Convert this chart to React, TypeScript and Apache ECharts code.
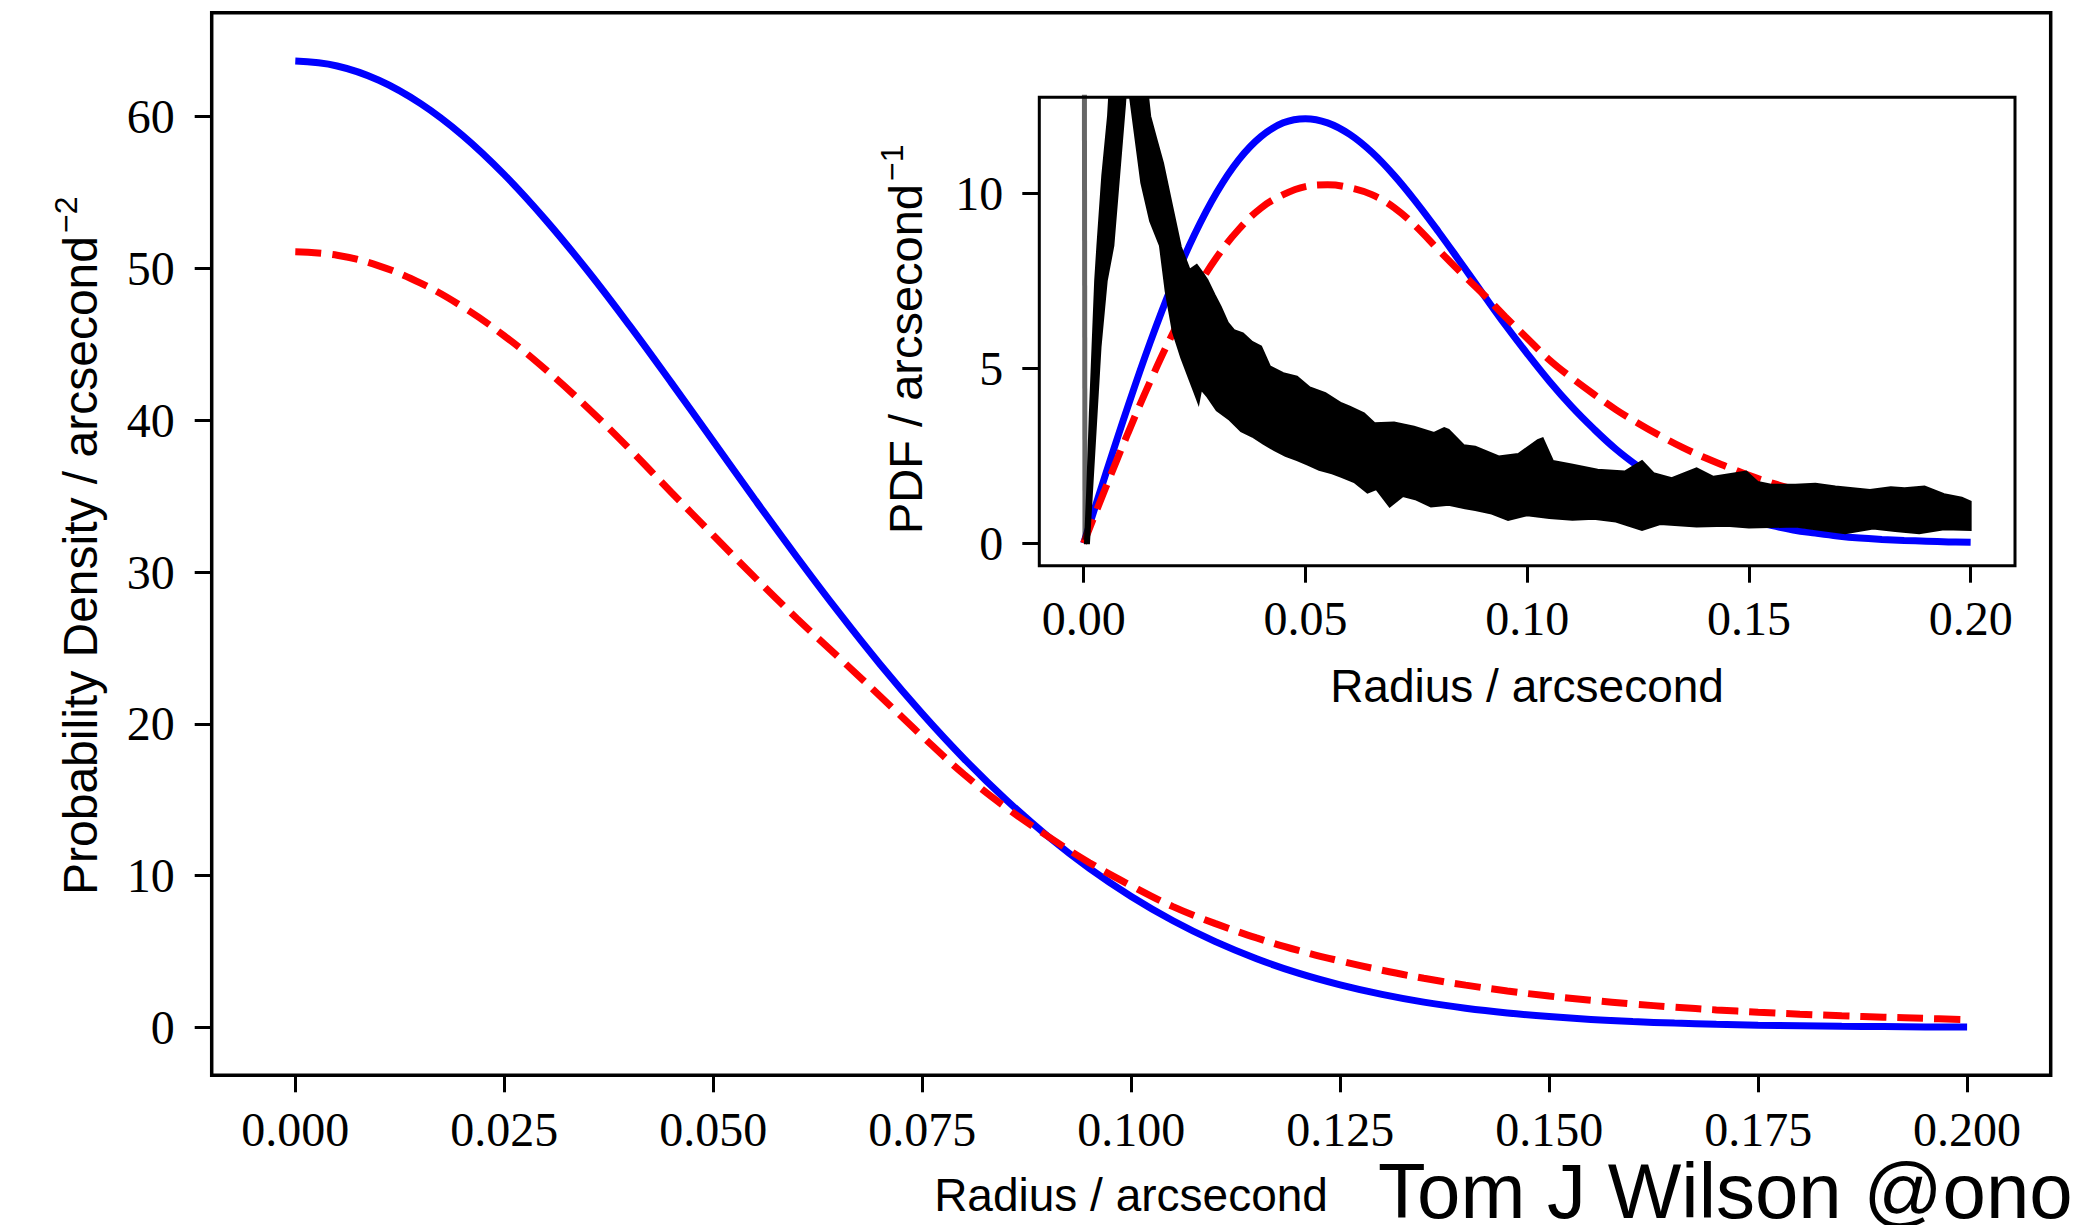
import React, { useEffect, useRef } from "react";
import * as echarts from "echarts";

// Radius grid (arcsecond)
const radius = [
  0, 0.005, 0.01, 0.015, 0.02, 0.025, 0.03, 0.035, 0.04, 0.045, 0.05, 0.055, 0.06, 0.065, 0.07,
  0.075, 0.08, 0.085, 0.09, 0.095, 0.1, 0.105, 0.11, 0.115, 0.12, 0.125, 0.13, 0.135, 0.14, 0.145,
  0.15, 0.155, 0.16, 0.165, 0.17, 0.175, 0.18, 0.185, 0.19, 0.195, 0.2,
];

// Main panel: probability density / arcsecond^-2
const mainBlue = [
  63.66, 63.34, 62.4, 60.86, 58.77, 56.18, 53.17, 49.83, 46.23, 42.46, 38.61, 34.76, 30.99, 27.35,
  23.89, 20.67, 17.7, 15.01, 12.6, 10.47, 8.62, 7.02, 5.66, 4.52, 3.57, 2.8, 2.17, 1.66, 1.26, 0.95,
  0.71, 0.52, 0.38, 0.28, 0.2, 0.14, 0.1, 0.07, 0.05, 0.03, 0.02,
];
const mainRed = [
  51.1, 50.87, 50.17, 49.03, 47.48, 45.56, 43.32, 40.81, 38.1, 35.24, 32.42, 29.63, 26.94, 24.38,
  21.8, 19.18, 16.67, 14.49, 12.6, 10.85, 9.33, 7.95, 6.85, 5.89, 5.07, 4.37, 3.76, 3.23, 2.78, 2.4,
  2.06, 1.78, 1.54, 1.33, 1.15, 1.0, 0.87, 0.76, 0.67, 0.59, 0.51,
];

// Inset panel: PDF / arcsecond^-1
const insetBlue = [
  0, 1.99, 3.92, 5.74, 7.39, 8.82, 10.02, 10.96, 11.62, 12.01, 12.13, 12.01, 11.68, 11.17, 10.51,
  9.74, 8.9, 8.02, 7.13, 6.25, 5.42, 4.63, 3.91, 3.27, 2.69, 2.2, 1.77, 1.41, 1.11, 0.87, 0.67, 0.51,
  0.38, 0.29, 0.21, 0.15, 0.11, 0.08, 0.06, 0.04, 0.03,
];
const insetRed = [
  0, 1.6, 3.15, 4.62, 5.97, 7.16, 8.17, 8.97, 9.58, 9.96, 10.19, 10.24, 10.16, 9.96, 9.59, 9.04,
  8.38, 7.74, 7.13, 6.48, 5.86, 5.24, 4.73, 4.26, 3.82, 3.43, 3.07, 2.74, 2.45, 2.19, 1.94, 1.73,
  1.55, 1.38, 1.23, 1.1, 0.98, 0.88, 0.8, 0.72, 0.64,
];

// Empirical (noisy) PDF in inset: first-bin spike, and the upper/lower envelope of the noise band
const empiricalSpike = [
  [0, 30],
  [0.0003, 0.1],
];
const empiricalUpper = [
  [0.0003, 0.0], [0.0008, 1.5], [0.0014, 3.7], [0.002, 5.6], [0.0026, 7.5], [0.0031, 8.5],
  [0.0042, 10.5], [0.0055, 12.2], [0.0061, 13.5], [0.0139, 13.5], [0.015, 12.2], [0.0165, 11.5],
  [0.0179, 10.86], [0.02, 9.6], [0.0219, 8.47], [0.0239, 7.81], [0.0255, 7.95], [0.0269, 7.71],
  [0.0279, 7.52], [0.0295, 7.1], [0.0309, 6.76], [0.0325, 6.3], [0.0339, 6.09], [0.0359, 6.0],
  [0.038, 5.75], [0.04, 5.62], [0.042, 5.05], [0.045, 4.86], [0.0481, 4.76], [0.051, 4.45],
  [0.0545, 4.29], [0.0581, 4.0], [0.06, 3.9], [0.0632, 3.71], [0.0656, 3.43], [0.07, 3.45],
  [0.0745, 3.33], [0.079, 3.15], [0.0813, 3.29], [0.0823, 3.24], [0.0857, 2.8], [0.0883, 2.76],
  [0.0936, 2.48], [0.098, 2.55], [0.1024, 2.95], [0.1035, 3.0], [0.1058, 2.35], [0.11, 2.25],
  [0.1159, 2.1], [0.122, 2.05], [0.1259, 2.35], [0.1285, 2.0], [0.1326, 1.86], [0.1382, 2.14],
  [0.142, 1.9], [0.1494, 2.05], [0.152, 1.75], [0.155, 1.67], [0.1605, 1.67], [0.165, 1.7],
  [0.1695, 1.62], [0.1773, 1.52], [0.182, 1.6], [0.1851, 1.57], [0.1896, 1.62], [0.194, 1.4],
  [0.198, 1.3], [0.2, 1.19],
];
const empiricalLower = [
  [0.0012, 0.0], [0.0025, 2.8], [0.0038, 5.6], [0.0052, 7.5], [0.0067, 8.5], [0.008, 10.5],
  [0.0093, 12.5], [0.0098, 13.4], [0.0102, 13.0], [0.013, 10.3], [0.015, 9.2], [0.0172, 8.5],
  [0.0185, 7.2], [0.0201, 6.05], [0.022, 5.3], [0.0239, 4.67], [0.025, 4.3], [0.0259, 4.0],
  [0.0265, 4.4], [0.0279, 4.19], [0.03, 3.8], [0.0329, 3.53], [0.0355, 3.2], [0.038, 3.05],
  [0.0405, 2.85], [0.043, 2.66], [0.0455, 2.5], [0.0481, 2.38], [0.0505, 2.25], [0.0531, 2.1],
  [0.056, 2.0], [0.0581, 1.9], [0.061, 1.75], [0.064, 1.45], [0.066, 1.55], [0.069, 1.05],
  [0.072, 1.35], [0.075, 1.25], [0.0783, 1.05], [0.0823, 1.1], [0.086, 1.0], [0.0883, 0.95],
  [0.092, 0.85], [0.0957, 0.67], [0.1, 0.8], [0.105, 0.72], [0.1102, 0.67], [0.115, 0.7],
  [0.12, 0.62], [0.1259, 0.38], [0.13, 0.55], [0.1382, 0.48], [0.145, 0.5], [0.15, 0.45],
  [0.1605, 0.48], [0.165, 0.4], [0.1717, 0.29], [0.178, 0.42], [0.183, 0.35], [0.1884, 0.29],
  [0.194, 0.4], [0.2, 0.38],
];

// Tick values
const mainXTicks = [0, 0.025, 0.05, 0.075, 0.1, 0.125, 0.15, 0.175, 0.2];
const mainYTicks = [0, 10, 20, 30, 40, 50, 60];
const insetXTicks = [0, 0.05, 0.1, 0.15, 0.2];
const insetYTicks = [0, 5, 10];

const SERIF = "'Liberation Serif', 'Times New Roman', serif";
const SANS = "'Liberation Sans', Arial, sans-serif";

function makeAxis(
  gridIndex: number,
  min: number,
  max: number,
  ticks: number[],
  fmt: (v: number) => string,
  margin: number
) {
  return {
    type: "value",
    gridIndex,
    min,
    max,
    splitLine: { show: false },
    axisLine: { show: false, onZero: false },
    axisTick: {
      show: true,
      inside: false,
      length: 17,
      customValues: ticks,
      lineStyle: { color: "#000", width: 3 },
    },
    axisLabel: {
      customValues: ticks,
      formatter: fmt,
      fontFamily: SERIF,
      fontSize: 48,
      lineHeight: 48,
      color: "#000",
      margin,
    },
  };
}

export default function App() {
  const ref = useRef<HTMLDivElement>(null);

  useEffect(() => {
    const chart = echarts.init(ref.current!, undefined, { renderer: "svg" });
    const pairs = (ys: number[]) => radius.map((r, i) => [r, ys[i]]);

    const option: any = {
      animation: false,
      backgroundColor: "#fff",
      grid: [
        {
          left: 211.7,
          top: 12.7,
          width: 1839,
          height: 1062.6,
          show: true,
          borderColor: "#000",
          borderWidth: 3.5,
          backgroundColor: "transparent",
        },
        {
          left: 1039.3,
          top: 97.3,
          width: 975.7,
          height: 468.4,
          show: true,
          borderColor: "#000",
          borderWidth: 3,
          backgroundColor: "#fff",
        },
      ],
      xAxis: [
        makeAxis(0, -0.01, 0.21, mainXTicks, (v) => v.toFixed(3), 30),
        makeAxis(1, -0.01, 0.21, insetXTicks, (v) => v.toFixed(2), 29),
      ],
      yAxis: [
        makeAxis(0, -3.16, 66.85, mainYTicks, (v) => String(v), 37),
        makeAxis(1, -0.64, 12.74, insetYTicks, (v) => String(v), 36),
      ],
      series: [
        {
          type: "line",
          xAxisIndex: 0,
          yAxisIndex: 0,
          data: pairs(mainBlue),
          showSymbol: false,
          smooth: 0.4,
          z: 2,
          lineStyle: { color: "#0000ff", width: 7 },
        },
        {
          type: "line",
          xAxisIndex: 0,
          yAxisIndex: 0,
          data: pairs(mainRed),
          showSymbol: false,
          smooth: 0.4,
          z: 2,
          lineStyle: { color: "#ff0000", width: 7, type: [26, 11], cap: "butt" },
        },
        {
          type: "line",
          xAxisIndex: 1,
          yAxisIndex: 1,
          data: pairs(insetBlue),
          showSymbol: false,
          smooth: 0.4,
          clip: true,
          z: 2,
          lineStyle: { color: "#0000ff", width: 7 },
        },
        {
          type: "line",
          xAxisIndex: 1,
          yAxisIndex: 1,
          data: pairs(insetRed),
          showSymbol: false,
          smooth: 0.4,
          clip: true,
          z: 2,
          lineStyle: { color: "#ff0000", width: 7, type: [26, 11], cap: "butt" },
        },
        {
          type: "line",
          xAxisIndex: 1,
          yAxisIndex: 1,
          data: empiricalSpike,
          showSymbol: false,
          clip: true,
          z: 4,
          lineStyle: { color: "rgba(0,0,0,0.6)", width: 5 },
        },
        {
          type: "custom",
          xAxisIndex: 1,
          yAxisIndex: 1,
          clip: true,
          z: 4,
          data: [[0, 0]],
          encode: { x: 0, y: 1 },
          renderItem: (_params: any, api: any) => {
            const outline = [...empiricalUpper, ...empiricalLower.slice().reverse()];
            const points = outline.map((p) => api.coord(p));
            return {
              type: "polygon",
              shape: { points },
              style: { fill: "#000", stroke: "#000", lineWidth: 2 },
            };
          },
        },
      ],
      graphic: [
        {
          type: "text",
          x: 80,
          y: 236,
          rotation: Math.PI / 2,
          z: 100,
          style: {
            text: "Probability Density / arcsecond",
            fontSize: 48,
            fontFamily: SANS,
            fill: "#000",
            align: "right",
            verticalAlign: "middle",
          },
        },
        {
          type: "text",
          x: 66,
          y: 233,
          rotation: Math.PI / 2,
          z: 100,
          style: {
            text: "\u22122",
            fontSize: 32,
            fontFamily: SANS,
            fill: "#000",
            align: "left",
            verticalAlign: "middle",
          },
        },
        {
          type: "text",
          x: 905,
          y: 184,
          rotation: Math.PI / 2,
          z: 100,
          style: {
            text: "PDF / arcsecond",
            fontSize: 47,
            fontFamily: SANS,
            fill: "#000",
            align: "right",
            verticalAlign: "middle",
          },
        },
        {
          type: "text",
          x: 892,
          y: 181,
          rotation: Math.PI / 2,
          z: 100,
          style: {
            text: "\u22121",
            fontSize: 32,
            fontFamily: SANS,
            fill: "#000",
            align: "left",
            verticalAlign: "middle",
          },
        },
        {
          type: "text",
          x: 1131,
          y: 1195,
          z: 100,
          style: {
            text: "Radius / arcsecond",
            fontSize: 46,
            lineHeight: 46,
            fontFamily: SANS,
            fill: "#000",
            align: "center",
            verticalAlign: "middle",
          },
        },
        {
          type: "text",
          x: 1527,
          y: 686,
          z: 100,
          style: {
            text: "Radius / arcsecond",
            fontSize: 46,
            fontFamily: SANS,
            fill: "#000",
            align: "center",
            verticalAlign: "middle",
          },
        },
        {
          type: "text",
          x: 1378,
          y: 1191,
          z: 100,
          style: {
            text: "Tom J Wilson @ono",
            fontSize: 78,
            lineHeight: 58,
            fontFamily: SANS,
            fill: "#000",
            align: "left",
            verticalAlign: "middle",
          },
        },
      ],
    };

    chart.setOption(option);
    return () => chart.dispose();
  }, []);

  return (
    <div
      ref={ref}
      style={{ position: "absolute", left: 0, top: 0, width: 2076, height: 1225 }}
    />
  );
}
